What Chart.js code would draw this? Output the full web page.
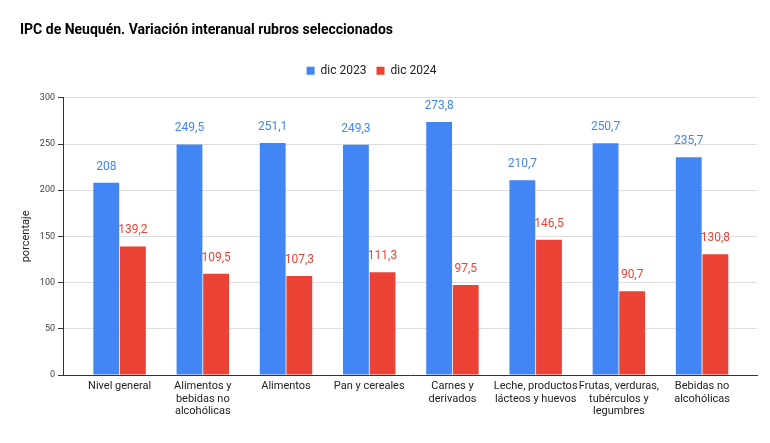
<!DOCTYPE html>
<html>
<head>
<meta charset="utf-8">
<script src="https://cdn.jsdelivr.net/npm/chart.js@4.4.1/dist/chart.umd.min.js"></script>
<style>
  html, body { margin: 0; padding: 0; background: #fff; }
</style>
</head>
<body>
<canvas id="ipc" width="770" height="443"></canvas>
<script>
// IPC Neuquén, variación interanual por rubro (dic 2023 vs dic 2024)
var categorias = [
    'Nivel general',
    ['Alimentos y', 'bebidas no', 'alcohólicas'],
    'Alimentos',
    'Pan y cereales',
    ['Carnes y', 'derivados'],
    ['Leche, productos', 'lácteos y huevos'],
    ['Frutas, verduras,', 'tubérculos y', 'legumbres'],
    ['Bebidas no', 'alcohólicas']
];
var dic2023 = [208, 249.5, 251.1, 249.3, 273.8, 210.7, 250.7, 235.7];
var dic2024 = [139.2, 109.5, 107.3, 111.3, 97.5, 146.5, 90.7, 130.8];
var yTicks = [0, 50, 100, 150, 200, 250, 300];

var AZUL = '#4285f4', ROJO = '#ea4335';
var FONT = 'Roboto, "Liberation Sans", Arial, sans-serif';

function fmt(v) { return String(v).replace('.', ','); }

// etiquetas de valor encima de cada barra
var etiquetas = {
    id: 'etiquetas',
    afterDatasetsDraw: function (chart) {
        var ctx = chart.ctx;
        ctx.save();
        ctx.font = '12px ' + FONT;
        ctx.textAlign = 'center';
        ctx.textBaseline = 'middle';
        chart.data.datasets.forEach(function (ds, i) {
            ctx.fillStyle = ds.backgroundColor;
            chart.getDatasetMeta(i).data.forEach(function (bar, j) {
                ctx.fillText(fmt(ds.data[j].y), bar.x, bar.y - 16);
            });
        });
        ctx.restore();
    }
};

// la leyenda del original no queda centrada en el lienzo y deja más aire abajo
var ajusteLeyenda = {
    id: 'ajusteLeyenda',
    beforeLayout: function (chart) {
        var lg = chart.legend;
        if (lg && !lg._ajustada) {
            var fit = lg.fit;
            lg.fit = function () { fit.call(this); this.height += 11; };
            lg._ajustada = true;
        }
    },
    afterLayout: function (chart) {
        if (chart.legend) { chart.legend.left -= 17; chart.legend.right -= 17; }
    }
};

function puntos(vals) { return vals.map(function (v, i) { return { x: i, y: v }; }); }

new Chart(document.getElementById('ipc'), {
    type: 'bar',
    data: {
        datasets: [
            { label: 'dic 2023', data: puntos(dic2023), backgroundColor: AZUL },
            { label: 'dic 2024', data: puntos(dic2024), backgroundColor: ROJO }
        ]
    },
    options: {
        responsive: false,
        animation: false,
        categoryPercentage: 0.64,
        barPercentage: 0.97,
        layout: { padding: { left: 20, right: 13, top: 0, bottom: 20 } },
        plugins: {
            tooltip: { enabled: false },
            title: {
                display: true,
                text: 'IPC de Neuquén. Variación interanual rubros seleccionados',
                align: 'start',
                color: '#000',
                font: { family: FONT, size: 14, weight: 'bold' },
                padding: { top: 22, bottom: 16 }
            },
            legend: {
                position: 'top',
                labels: {
                    color: '#222',
                    font: { family: FONT, size: 12 },
                    boxWidth: 8,
                    boxHeight: 8,
                    padding: 10
                }
            }
        },
        scales: {
            x: {
                type: 'linear',
                offset: false,
                min: -0.68,
                max: 7.66,
                afterBuildTicks: function (s) { s.ticks = categorias.map(function (c, i) { return { value: i }; }); },
                ticks: {
                    autoSkip: false,
                    maxRotation: 0,
                    color: '#222',
                    padding: 5,
                    font: { family: FONT, size: 11, lineHeight: 1.15 },
                    callback: function (v) { return categorias[v]; }
                },
                grid: { display: false, drawTicks: false, offset: false },
                border: { color: '#333', width: 1 }
            },
            y: {
                min: 0,
                max: 300,
                afterBuildTicks: function (s) { s.ticks = yTicks.map(function (v) { return { value: v }; }); },
                afterFit: function (s) { s.width = 43; },
                ticks: { color: '#444', padding: 3, font: { family: FONT, size: 9 } },
                grid: {
                    color: function (c) { return c.tick && c.tick.value === 0 ? 'rgba(0,0,0,0)' : '#dedede'; },
                    tickColor: '#333',
                    tickLength: 5
                },
                border: { color: '#333', width: 1 },
                title: {
                    display: true,
                    text: 'porcentaje',
                    color: '#222',
                    font: { family: FONT, size: 11 },
                    padding: 0
                }
            }
        }
    },
    plugins: [etiquetas, ajusteLeyenda]
});
</script>
</body>
</html>
